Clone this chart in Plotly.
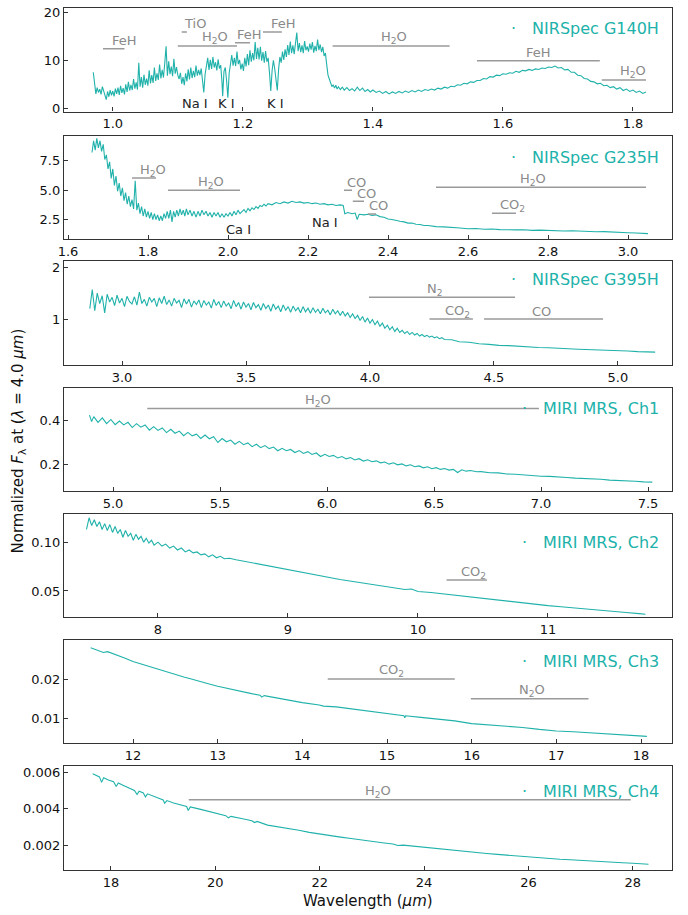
import plotly.graph_objects as go
from plotly.subplots import make_subplots

# ---------------- data ----------------
wl_g140h = [0.970,0.972,0.974,0.976,0.978,0.980,0.982,0.984,0.986,0.988,0.990,0.992,0.994,0.996,0.998,
 1.000,1.002,1.004,1.006,1.008,1.010,1.012,1.014,1.016,1.018,1.020,1.022,1.024,1.026,1.028,1.030,1.032,1.034,1.036,1.038,
 1.040,1.042,1.044,1.046,1.048,1.050,1.052,1.054,1.056,1.058,1.060,1.062,1.064,1.066,1.068,1.070,1.072,1.074,1.076,1.078,
 1.080,1.082,1.084,1.086,1.088,1.090,1.092,1.094,1.096,1.098,1.100,1.102,1.104,1.106,1.108,1.110,1.112,1.114,1.116,1.118,
 1.120,1.122,1.124,1.126,1.128,1.130,1.132,1.134,1.136,1.138,1.140,1.142,1.144,1.146,1.148,1.150,1.152,1.154,1.156,1.158,
 1.160,1.162,1.164,1.166,1.168,1.169,1.171,1.173,1.175,1.177,1.179,1.181,1.183,1.185,1.187,1.189,1.191,1.193,1.195,1.197,
 1.199,1.201,1.203,1.205,1.207,1.209,1.211,1.213,1.215,1.217,1.219,1.221,1.223,1.225,1.227,1.229,1.231,1.233,1.235,1.237,
 1.239,1.241,1.243,1.245,1.247,1.249,1.251,1.253,1.255,1.257,1.259,1.261,1.263,1.265,1.267,1.269,1.271,1.273,1.275,1.277,
 1.279,1.281,1.283,1.285,1.287,1.289,1.291,1.293,1.295,1.297,1.299,1.301,1.303,1.305,1.307,1.309,1.311,1.313,1.315,1.317,
 1.319,1.321,1.323,1.325,1.327,1.329,1.331,1.333,1.335,1.337,1.339,1.341,1.343,1.345,1.347,1.350,1.353,1.356,1.360,1.364,
 1.368,1.372,1.376,1.380,1.384,1.388,1.392,1.396,1.400,1.405,1.410,1.415,1.420,1.425,1.430,1.435,1.440,1.445,1.450,1.455,
 1.460,1.465,1.470,1.475,1.480,1.485,1.490,1.495,1.500,1.505,1.510,1.515,1.520,1.525,1.530,1.535,1.540,1.545,1.550,1.555,
 1.560,1.565,1.570,1.575,1.580,1.585,1.590,1.595,1.600,1.605,1.610,1.615,1.620,1.625,1.630,1.635,1.640,1.645,1.650,1.655,
 1.660,1.665,1.670,1.675,1.680,1.685,1.690,1.695,1.700,1.705,1.710,1.715,1.720,1.725,1.730,1.735,1.740,1.745,1.750,1.755,
 1.760,1.765,1.770,1.775,1.780,1.785,1.790,1.795,1.800,1.805,1.810,1.815,1.820]
fl_g140h = [7.6,5.2,3.1,4.4,3.4,4.1,3.0,4.6,3.5,2.6,1.9,3.6,2.5,3.9,2.8,
 3.7,2.6,4.2,3.1,4.4,2.9,4.8,3.3,4.3,3.0,5.1,3.5,5.6,3.8,5.0,3.9,6.2,4.2,5.5,4.0,
 9.6,4.6,6.6,4.4,7.1,5.0,6.3,4.8,8.0,5.3,7.0,5.4,8.6,5.8,7.4,6.0,9.2,6.3,8.1,6.5,
 9.6,13.0,6.9,9.9,7.2,8.8,6.8,10.4,7.3,8.7,7.0,6.2,7.5,5.2,6.6,4.9,7.4,5.7,8.2,6.1,
 8.6,6.4,7.9,6.6,9.0,6.9,8.1,7.0,8.4,6.0,3.4,7.2,8.8,10.6,8.1,10.2,8.3,10.8,8.6,9.7,
 8.0,10.3,8.4,9.1,5.5,2.6,7.8,8.6,5.9,2.3,7.4,9.6,11.2,9.0,10.6,8.9,11.9,9.3,10.2,8.2,
 9.4,7.9,10.6,8.8,11.4,9.1,12.2,9.8,11.6,10.1,13.9,10.4,12.7,10.3,12.9,10.0,11.8,9.6,12.0,9.8,
 10.6,7.5,3.7,7.9,10.1,8.4,6.0,3.8,8.2,10.8,9.6,11.9,10.2,12.4,10.8,13.3,11.2,14.0,11.6,13.2,
 11.4,14.2,15.9,12.0,13.7,11.8,13.2,11.6,14.1,12.2,13.0,11.9,13.6,12.3,13.9,11.7,13.1,12.0,14.4,12.2,
 13.4,11.8,12.9,11.0,11.6,9.2,7.0,6.2,5.4,4.6,5.0,4.3,4.9,4.1,4.6,4.0,4.5,3.9,4.4,3.8,
 4.2,3.7,4.5,3.8,4.3,3.6,4.0,3.5,3.9,3.4,3.7,3.2,3.6,3.1,3.5,3.2,3.6,3.3,3.7,3.4,
 3.8,3.5,3.9,3.6,4.0,3.8,4.1,3.9,4.3,4.1,4.5,4.3,4.7,4.6,5.0,4.9,5.3,5.2,5.6,5.5,
 5.9,5.9,6.3,6.2,6.7,6.6,7.0,6.9,7.3,7.2,7.5,7.4,7.8,7.6,8.0,7.9,8.2,8.0,8.3,8.2,
 8.5,8.4,8.7,8.6,8.9,8.5,8.6,8.1,8.2,7.6,7.6,7.0,6.9,6.3,6.2,5.7,5.6,5.2,5.3,4.8,
 4.9,4.4,4.6,4.1,4.4,3.8,4.1,3.6,3.9,3.4,3.7,3.2,3.5]

wl_g235h = [1.660,1.664,1.668,1.672,1.676,1.680,1.684,1.688,1.692,1.696,1.700,1.704,1.708,1.712,1.716,1.720,
 1.724,1.728,1.732,1.736,1.740,1.744,1.748,1.752,1.756,1.760,1.764,1.768,1.772,1.776,1.780,1.784,1.788,1.792,
 1.796,1.800,1.804,1.808,1.812,1.816,1.820,1.824,1.828,1.832,1.836,1.840,1.844,1.848,1.852,1.856,1.860,1.864,
 1.868,1.872,1.876,1.880,1.884,1.888,1.892,1.896,1.900,1.905,1.910,1.915,1.920,1.925,1.930,1.935,1.940,1.945,
 1.950,1.955,1.960,1.965,1.970,1.975,1.980,1.985,1.990,1.995,2.000,2.005,2.010,2.015,2.020,2.025,2.030,2.040,
 2.045,2.050,2.055,2.060,2.065,2.070,2.075,2.080,2.085,2.090,2.095,2.100,2.110,2.120,2.130,2.140,2.150,2.160,
 2.170,2.180,2.190,2.200,2.210,2.220,2.230,2.240,2.250,2.260,2.270,2.280,2.288,2.292,2.300,2.310,2.318,2.323,
 2.328,2.340,2.350,2.360,2.370,2.380,2.390,2.400,2.410,2.420,2.430,2.440,2.450,2.460,2.470,2.480,2.490,2.500,
 2.52,2.54,2.56,2.58,2.60,2.62,2.64,2.66,2.68,2.70,2.72,2.74,2.76,2.78,2.80,2.82,2.84,2.86,2.88,2.90,2.92,2.94,
 2.96,2.98,3.00,3.02,3.04,3.05]
fl_g235h = [8.2,9.2,8.4,9.4,8.6,9.2,8.3,8.9,7.6,8.0,6.8,7.4,6.0,6.8,5.4,6.2,
 4.9,5.6,4.5,5.2,4.1,4.8,3.8,4.5,3.6,4.2,3.4,5.8,3.3,3.9,3.0,3.6,2.8,3.4,
 2.7,3.2,2.6,3.1,2.5,3.0,2.5,2.9,2.4,2.8,2.4,3.0,2.6,3.2,2.6,3.3,2.3,3.2,
 2.7,3.3,2.8,3.4,2.9,3.3,2.8,3.4,2.9,3.3,2.8,3.2,2.7,3.2,2.8,3.3,2.9,3.2,
 2.8,3.1,2.7,3.1,2.8,3.1,2.7,3.0,2.7,3.0,2.8,3.1,2.8,3.2,2.9,3.3,3.0,3.35,
 3.1,3.45,3.25,3.5,3.35,3.6,3.45,3.7,3.6,3.8,3.65,3.85,3.75,3.95,3.85,4.0,3.9,4.05,
 3.95,4.0,3.9,3.95,3.85,3.9,3.8,3.85,3.75,3.8,3.7,3.75,3.7,3.0,3.1,3.0,3.05,2.5,
 2.95,2.9,2.95,2.85,2.9,2.75,2.7,2.55,2.5,2.4,2.35,2.3,2.2,2.2,2.1,2.08,2.0,2.0,
 1.9,1.88,1.8,1.78,1.72,1.74,1.68,1.7,1.64,1.66,1.62,1.63,1.58,1.6,1.56,1.57,1.53,1.55,1.5,1.5,1.46,1.47,
 1.42,1.43,1.38,1.36,1.32,1.30]

wl_g395h = [2.87,2.88,2.89,2.90,2.91,2.92,2.93,2.94,2.95,2.96,2.97,2.98,2.99,3.00,3.01,3.02,3.03,3.04,3.05,
 3.06,3.07,3.08,3.09,3.10,3.11,3.12,3.13,3.14,3.15,3.16,3.17,3.18,3.19,3.20,3.21,3.22,3.23,3.24,3.25,3.26,
 3.27,3.28,3.29,3.30,3.31,3.32,3.33,3.34,3.35,3.36,3.37,3.38,3.39,3.40,3.41,3.42,3.43,3.44,3.45,3.46,3.47,
 3.48,3.49,3.50,3.51,3.52,3.53,3.54,3.55,3.56,3.57,3.58,3.59,3.60,3.61,3.62,3.63,3.64,3.65,3.66,3.67,3.68,
 3.69,3.70,3.71,3.72,3.73,3.74,3.75,3.76,3.77,3.78,3.79,3.80,3.81,3.82,3.83,3.84,3.85,3.86,3.87,3.88,3.89,
 3.90,3.91,3.92,3.93,3.94,3.95,3.96,3.97,3.98,3.99,4.00,4.01,4.02,4.03,4.04,4.05,4.06,4.07,4.08,4.09,4.10,
 4.11,4.12,4.13,4.14,4.15,4.16,4.17,4.18,4.19,4.20,4.21,4.22,4.23,4.24,4.25,4.26,4.27,4.28,4.29,4.30,
 4.33,4.36,4.40,4.44,4.48,4.52,4.56,4.60,4.64,4.68,4.72,4.76,4.80,4.84,4.88,4.92,4.96,5.00,5.04,5.08,5.12,5.15]
fl_g395h = [1.20,1.57,1.16,1.50,1.30,1.45,1.12,1.48,1.33,1.42,1.26,1.46,1.31,1.40,1.24,1.44,1.34,1.29,1.43,
 1.27,1.52,1.30,1.38,1.25,1.42,1.33,1.40,1.24,1.41,1.30,1.44,1.28,1.37,1.25,1.40,1.31,1.36,1.22,1.39,1.29,
 1.38,1.23,1.35,1.28,1.37,1.22,1.36,1.27,1.33,1.21,1.38,1.26,1.34,1.22,1.35,1.25,1.31,1.20,1.36,1.24,1.32,
 1.19,1.33,1.23,1.30,1.18,1.32,1.22,1.28,1.17,1.30,1.20,1.27,1.15,1.29,1.19,1.25,1.14,1.27,1.17,1.24,1.13,
 1.25,1.16,1.22,1.12,1.24,1.14,1.21,1.11,1.22,1.13,1.19,1.10,1.21,1.12,1.17,1.08,1.19,1.10,1.16,1.07,1.15,
 1.06,1.12,1.03,1.10,1.01,1.07,0.97,1.05,0.94,1.02,0.92,0.99,0.89,0.96,0.86,0.92,0.82,0.88,0.79,0.85,0.76,
 0.82,0.74,0.78,0.72,0.76,0.70,0.74,0.69,0.72,0.67,0.70,0.66,0.685,0.65,0.67,0.635,0.655,0.62,0.64,0.605,
 0.60,0.56,0.55,0.52,0.51,0.49,0.485,0.47,0.465,0.45,0.445,0.43,0.425,0.415,0.41,0.40,0.395,0.385,0.38,0.37,0.365,0.36]

wl_ch1 = [4.89,4.90,4.91,4.93,4.95,4.97,4.99,5.01,5.03,5.05,5.07,5.09,5.11,5.13,5.15,5.17,5.19,5.21,5.23,5.25,
 5.27,5.29,5.31,5.33,5.35,5.37,5.39,5.41,5.43,5.45,5.47,5.49,5.51,5.53,5.55,5.57,5.59,5.61,5.63,5.65,5.67,
 5.69,5.71,5.73,5.75,5.77,5.79,5.81,5.83,5.85,5.87,5.89,5.91,5.93,5.95,5.97,5.99,6.01,6.03,6.05,6.07,6.09,
 6.11,6.13,6.15,6.17,6.19,6.21,6.23,6.25,6.27,6.29,6.31,6.33,6.35,6.37,6.39,6.41,6.43,6.45,6.47,6.49,6.51,
 6.53,6.55,6.57,6.59,6.61,6.63,6.65,6.67,6.70,6.72,6.76,6.80,6.84,6.88,6.92,6.96,7.00,7.04,7.08,7.12,7.16,
 7.20,7.24,7.28,7.32,7.36,7.40,7.44,7.48,7.52]
fl_ch1 = [0.425,0.395,0.418,0.392,0.412,0.386,0.405,0.381,0.398,0.380,0.392,0.368,0.386,0.370,0.380,0.356,0.372,0.355,0.366,0.345,
 0.360,0.342,0.352,0.331,0.346,0.330,0.338,0.318,0.334,0.317,0.326,0.300,0.318,0.303,0.311,0.292,0.305,0.290,0.298,0.281,0.292,
 0.276,0.286,0.272,0.279,0.262,0.273,0.262,0.268,0.254,0.263,0.250,0.258,0.245,0.252,0.236,0.246,0.236,0.241,0.229,0.236,0.225,
 0.231,0.220,0.226,0.215,0.221,0.212,0.216,0.207,0.211,0.201,0.207,0.198,0.202,0.193,0.198,0.189,0.193,0.184,0.189,0.180,0.185,
 0.177,0.181,0.174,0.177,0.163,0.175,0.169,0.172,0.166,0.167,0.162,0.161,0.156,0.155,0.151,0.15,0.146,0.145,0.141,0.14,0.137,
 0.136,0.132,0.132,0.128,0.127,0.124,0.123,0.12,0.119]

wl_ch2 = [7.45,7.47,7.49,7.51,7.53,7.55,7.57,7.59,7.61,7.63,7.65,7.67,7.69,7.71,7.73,7.75,7.77,7.79,7.81,7.83,
 7.85,7.87,7.89,7.91,7.93,7.95,7.97,8.00,8.03,8.06,8.09,8.12,8.15,8.18,8.21,8.24,8.27,8.30,8.33,8.36,8.39,
 8.42,8.45,8.48,8.51,8.55,8.60,8.70,8.80,8.90,9.00,9.10,9.20,9.30,9.40,9.50,9.60,9.70,9.80,9.90,
 9.95,10.00,10.10,10.20,10.30,10.40,10.50,10.60,10.70,10.80,10.90,11.00,11.10,11.20,11.30,11.40,11.50,11.60,
 11.70,11.75]
fl_ch2 = [0.113,0.125,0.117,0.123,0.116,0.121,0.113,0.119,0.112,0.118,0.110,0.116,0.109,0.113,0.105,0.112,0.106,0.109,0.102,0.108,
 0.103,0.106,0.100,0.104,0.099,0.102,0.097,0.100,0.096,0.098,0.094,0.096,0.092,0.094,0.090,0.092,0.089,0.090,0.087,0.088,0.085,
 0.087,0.084,0.0855,0.083,0.0835,0.082,0.0795,0.0765,0.074,0.0715,0.0692,0.0668,0.0645,0.0618,0.0598,0.0578,0.0558,0.054,0.0515,
 0.052,0.0495,0.0485,0.047,0.0455,0.0438,0.0425,0.0405,0.0392,0.0375,0.0362,0.0350,0.0338,0.0325,0.0312,0.0300,0.0290,0.0280,
 0.0268,0.0262]

wl_ch3 = [11.50,11.55,11.60,11.65,11.70,11.80,11.90,12.00,12.10,12.20,12.30,12.40,12.50,12.60,12.70,12.80,12.90,
 13.00,13.10,13.20,13.30,13.40,13.50,13.52,13.55,13.60,13.70,13.80,13.90,14.00,14.20,14.25,14.40,14.60,14.80,
 15.00,15.20,15.21,15.22,15.40,15.60,15.80,16.00,16.20,16.40,16.60,16.80,17.00,17.20,17.40,17.60,17.80,18.00,18.07]
fl_ch3 = [0.0282,0.0278,0.0276,0.0270,0.0272,0.0265,0.0256,0.0247,0.0240,0.0233,0.0227,0.0220,0.0214,0.0207,0.0201,0.0194,0.0189,
 0.0183,0.0178,0.0173,0.0168,0.0164,0.0160,0.0155,0.0159,0.0157,0.0153,0.0149,0.0145,0.0141,0.0135,0.0132,0.0130,0.0124,0.0118,
 0.0112,0.0107,0.0102,0.0107,0.0103,0.0099,0.0094,0.0087,0.0084,0.0080,0.0077,0.0072,0.0068,0.0066,0.0063,0.0061,0.0058,0.0055,0.0054]

wl_ch4 = [17.65,17.72,17.78,17.82,17.86,17.95,18.05,18.10,18.14,18.25,18.35,18.45,18.50,18.54,18.62,18.66,18.70,
 18.80,18.90,19.00,19.03,19.07,19.20,19.30,19.45,19.48,19.52,19.70,19.85,20.00,20.20,20.25,20.30,20.50,20.70,
 20.75,20.80,21.00,21.20,21.40,21.60,21.80,22.00,22.20,22.40,22.60,22.80,23.00,23.20,23.40,23.50,23.60,23.80,
 24.00,24.20,24.40,24.60,24.80,25.00,25.20,25.40,25.60,25.80,26.00,26.20,26.40,26.60,26.80,27.00,27.20,27.40,
 27.60,27.80,28.00,28.20,28.30]
fl_ch4 = [0.00592,0.00582,0.00575,0.00545,0.00570,0.00558,0.00548,0.00522,0.00542,0.00527,0.00513,0.00500,0.00478,0.00496,0.00487,0.00465,0.00482,
 0.00470,0.00460,0.00448,0.00430,0.00445,0.00432,0.00424,0.00412,0.00390,0.00410,0.00398,0.00388,0.00376,0.00362,0.00350,0.00358,0.00346,0.00334,
 0.00324,0.00330,0.00310,0.00302,0.00292,0.00282,0.00270,0.00260,0.00252,0.00244,0.00236,0.00227,0.00220,0.00213,0.00206,0.00198,0.00200,0.00194,
 0.00186,0.00181,0.00175,0.00170,0.00164,0.00158,0.00154,0.00149,0.00144,0.00140,0.00134,0.00130,0.00126,0.00122,0.00119,0.00115,0.00112,0.00109,
 0.00106,0.00103,0.00100,0.00097,0.00095]

instrument_names = ["NIRSpec G140H", "NIRSpec G235H", "NIRSpec G395H",
                    "MIRI MRS, Ch1", "MIRI MRS, Ch2", "MIRI MRS, Ch3", "MIRI MRS, Ch4"]

x_tickvals = [[1.0, 1.2, 1.4, 1.6, 1.8], [1.6, 1.8, 2.0, 2.2, 2.4, 2.6, 2.8, 3.0],
              [3.0, 3.5, 4.0, 4.5, 5.0], [5.0, 5.5, 6.0, 6.5, 7.0, 7.5],
              [8, 9, 10, 11], [12, 13, 14, 15, 16, 17, 18], [18, 20, 22, 24, 26, 28]]
x_ticktext = [["1.0", "1.2", "1.4", "1.6", "1.8"], ["1.6", "1.8", "2.0", "2.2", "2.4", "2.6", "2.8", "3.0"],
              ["3.0", "3.5", "4.0", "4.5", "5.0"], ["5.0", "5.5", "6.0", "6.5", "7.0", "7.5"],
              ["8", "9", "10", "11"], ["12", "13", "14", "15", "16", "17", "18"],
              ["18", "20", "22", "24", "26", "28"]]
y_tickvals = [[0, 10, 20], [2.5, 5.0, 7.5], [1, 2], [0.2, 0.4], [0.05, 0.10], [0.01, 0.02],
              [0.002, 0.004, 0.006]]
y_ticktext = [["0", "10", "20"], ["2.5", "5.0", "7.5"], ["1", "2"], ["0.2", "0.4"],
              ["0.05", "0.10"], ["0.01", "0.02"], ["0.002", "0.004", "0.006"]]

# molecular band markers: (panel, start, end, level, label, label position)
bands = [
    (0, 0.985, 1.018, 12.5, "FeH", 1.018),
    (0, 1.106, 1.114, 16.0, "TiO", 1.126),
    (0, 1.100, 1.191, 13.1, "H<sub>2</sub>O", 1.157),
    (0, 1.188, 1.211, 13.75, "FeH", 1.211),
    (0, 1.231, 1.260, 16.0, "FeH", 1.262),
    (0, 1.338, 1.518, 13.1, "H<sub>2</sub>O", 1.432),
    (0, 1.560, 1.749, 10.0, "FeH", 1.655),
    (0, 1.752, 1.820, 6.0, "H<sub>2</sub>O", 1.800),
    (1, 1.760, 1.820, 6.03, "H<sub>2</sub>O", 1.813),
    (1, 1.850, 2.030, 5.0, "H<sub>2</sub>O", 1.957),
    (1, 2.290, 2.310, 5.0, "CO", 2.322),
    (1, 2.312, 2.340, 4.05, "CO", 2.347),
    (1, 2.350, 2.370, 2.98, "CO", 2.375),
    (1, 2.520, 3.045, 5.24, "H<sub>2</sub>O", 2.762),
    (1, 2.660, 2.720, 3.03, "CO<sub>2</sub>", 2.712),
    (2, 3.996, 4.585, 1.42, "N<sub>2</sub>", 4.262),
    (2, 4.240, 4.415, 1.0, "CO<sub>2</sub>", 4.351),
    (2, 4.460, 4.940, 1.0, "CO", 4.690),
    (3, 5.16, 6.99, 0.455, "H<sub>2</sub>O", 5.96),
    (4, 10.22, 10.53, 0.0612, "CO<sub>2</sub>", 10.43),
    (5, 14.30, 15.80, 0.0202, "CO<sub>2</sub>", 15.05),
    (5, 15.99, 17.38, 0.0151, "N<sub>2</sub>O", 16.71),
    (6, 19.49, 27.96, 0.0045, "H<sub>2</sub>O", 23.11),
]

# atomic line labels: (panel, x, y, text)
atoms = [
    (0, 1.126, 1.0, "Na I"),
    (0, 1.175, 1.0, "K I"),
    (0, 1.251, 1.0, "K I"),
    (1, 2.025, 1.68, "Ca I"),
    (1, 2.2425, 2.27, "Na I"),
]

spectra = [(wl_g140h, fl_g140h), (wl_g235h, fl_g235h), (wl_g395h, fl_g395h),
           (wl_ch1, fl_ch1), (wl_ch2, fl_ch2), (wl_ch3, fl_ch3), (wl_ch4, fl_ch4)]

# ---------------- layout geometry ----------------
W, H = 688, 915
ML, MR, MT, MB = 64, 16, 5, 45
PW, PH = W - ML - MR, H - MT - MB
tops = [5, 133, 259, 386, 513, 639, 766]
bots = [109, 237, 363, 490, 616, 743, 870]
x_ranges = [[0.925, 1.86], [1.59, 3.11], [2.766, 5.218], [4.771, 7.612],
            [7.277, 11.954], [11.185, 18.366], [17.10, 28.75]]
y_ranges = [[-0.6, 21.0], [0.83, 9.64], [0.115, 2.12], [0.077, 0.55],
            [0.0235, 0.1286], [0.00359, 0.03026], [0.00063, 0.00633]]
legend_y = [26, 155, 277, 407, 541, 661, 791]

def px_x(px):
    return (px - ML) / PW

def px_y(py):
    return (H - MB - py) / PH

TEAL = "#20B2AA"
GRAY_LINE = "#9a9a9a"
GRAY_TXT = "#8a8a8a"
FONT = "DejaVu Sans"

fig = make_subplots(rows=7, cols=1)

for i, (wl, fl) in enumerate(spectra):
    fig.add_trace(go.Scatter(x=wl, y=fl, mode="lines",
                             line=dict(color=TEAL, width=1.1),
                             showlegend=False, hoverinfo="skip"),
                  row=i + 1, col=1)

axis_common = dict(showgrid=False, zeroline=False, showline=True, mirror=True,
                   linecolor="#333333", linewidth=1.3, ticks="inside", ticklen=4,
                   tickwidth=1, tickcolor="#333333",
                   tickfont=dict(family=FONT, size=13, color="#111111"))

for i in range(7):
    n = "" if i == 0 else str(i + 1)
    fig.layout["xaxis" + n].update(range=x_ranges[i], tickvals=x_tickvals[i],
                                   ticktext=x_ticktext[i], domain=[0, 1], **axis_common)
    fig.layout["yaxis" + n].update(range=y_ranges[i], tickvals=y_tickvals[i],
                                   ticktext=y_ticktext[i],
                                   domain=[px_y(bots[i]), px_y(tops[i])], **axis_common)

shapes = []
annotations = []
for (p, x0, x1, lev, lab, lx) in bands:
    n = "" if p == 0 else str(p + 1)
    shapes.append(dict(type="line", xref="x" + n, yref="y" + n, x0=x0, x1=x1, y0=lev, y1=lev,
                       line=dict(color=GRAY_LINE, width=1.5)))
    annotations.append(dict(xref="x" + n, yref="y" + n, x=lx, y=lev, text=lab, showarrow=False,
                            xanchor="center", yanchor="middle", yshift=8,
                            font=dict(family=FONT, size=13, color=GRAY_TXT)))

for (p, x, y, t) in atoms:
    n = "" if p == 0 else str(p + 1)
    annotations.append(dict(xref="x" + n, yref="y" + n, x=x, y=y, text=t, showarrow=False,
                            xanchor="center", yanchor="middle",
                            font=dict(family=FONT, size=13, color="#222222")))

for i, name in enumerate(instrument_names):
    annotations.append(dict(xref="paper", yref="paper", x=px_x(661), y=px_y(legend_y[i]),
                            text="\u00b7\u2003" + name, showarrow=False,
                            xanchor="right", yanchor="middle",
                            font=dict(family=FONT, size=16, color=TEAL)))

annotations.append(dict(xref="paper", yref="paper", x=px_x(18), y=px_y(440),
                        text="Normalized <i>F</i><sub>λ</sub> at (<i>λ</i> = 4.0 <i>μm</i>)",
                        textangle=-90, showarrow=False, xanchor="center", yanchor="middle",
                        font=dict(family=FONT, size=15, color="#111111")))
annotations.append(dict(xref="paper", yref="paper", x=px_x(368), y=px_y(901),
                        text="Wavelength (<i>μm</i>)", showarrow=False,
                        xanchor="center", yanchor="middle",
                        font=dict(family=FONT, size=15, color="#111111")))

fig.update_layout(width=W, height=H, margin=dict(l=ML, r=MR, t=MT, b=MB),
                  paper_bgcolor="white", plot_bgcolor="white",
                  shapes=shapes, annotations=annotations, showlegend=False)

fig.write_html("out.html")
